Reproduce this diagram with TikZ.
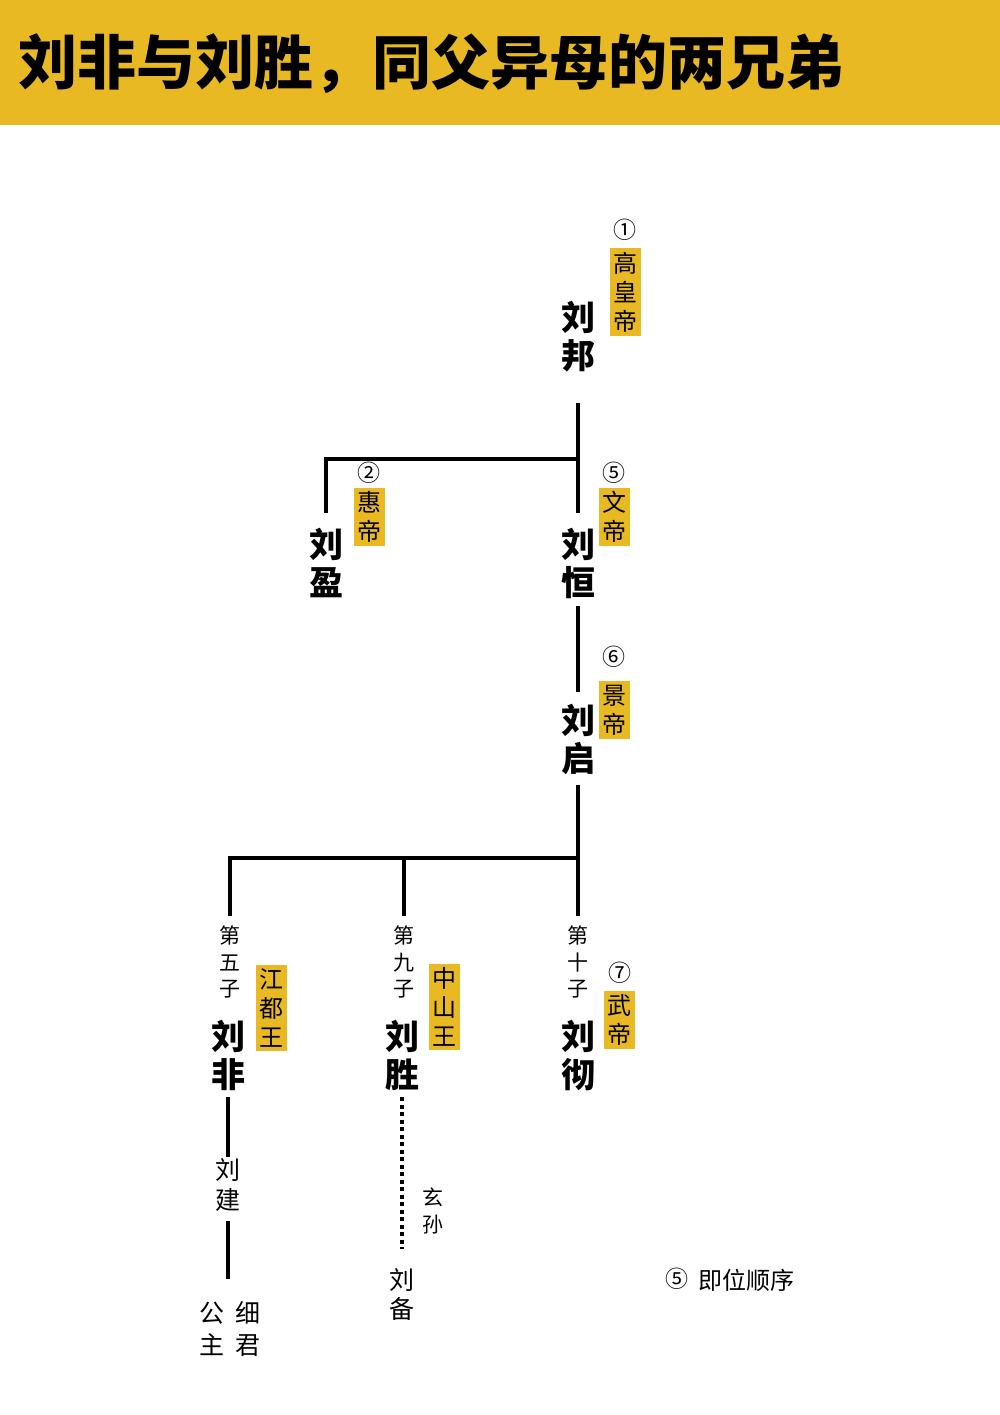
\documentclass[tikz,border=0pt]{standalone}
\usepackage{fontspec}
\setmainfont{Noto Sans CJK SC}
\definecolor{titlegold}{RGB}{233,185,35}

\begin{document}
\begin{tikzpicture}[x=1pt,y=-1pt,
  every node/.style={inner sep=0pt,align=center},
  ming/.style={font=\fontsize{34}{38}\selectfont\bfseries},
  hao/.style={fill=titlegold,inner sep=3.5pt,font=\fontsize{24}{29}\selectfont},
  xu/.style={font=\fontsize{23}{26}\selectfont},
  zi/.style={font=\fontsize{21}{26.5}\selectfont},
  link/.style={line width=4pt},
  dotlink/.style={line width=4.5pt,dash pattern=on 4pt off 3.5pt}]
  \useasboundingbox (0,0) rectangle (1000,1415);
  \fill[white] (0,0) rectangle (1000,1415);
  \fill[titlegold] (0,0) rectangle (1000,125);
  \node[anchor=west,font=\fontsize{59}{62}\selectfont\bfseries] (title) at (18,64)
    {刘非与刘胜，同父异母的两兄弟};

  % emperors
  \node[ming] (bang) at (578,337) {刘\\邦};
  \node[hao] (gaohuang) at (625,292) {高\\皇\\帝};
  \node[xu] (n1) at (625,230) {①};
  \node[ming] (ying) at (326,563) {刘\\盈};
  \node[hao] (huidi) at (369,517) {惠\\帝};
  \node[xu] (n2) at (369,473) {②};
  \node[ming] (heng) at (578,563) {刘\\恒};
  \node[hao] (wendi) at (614,517) {文\\帝};
  \node[xu] (n5) at (614,473) {⑤};
  \node[ming] (qi) at (578,740) {刘\\启};
  \node[hao] (jingdi) at (614,710) {景\\帝};
  \node[xu] (n6) at (614,657) {⑥};

  % sons of qi
  \node[zi] (rank5) at (230,962) {第\\五\\子};
  \node[ming] (fei) at (228,1055) {刘\\非};
  \node[hao] (jiangdu) at (271,1008) {江\\都\\王};
  \node[zi] (rank9) at (404,962) {第\\九\\子};
  \node[ming] (sheng) at (402,1055) {刘\\胜};
  \node[hao] (zhongshan) at (444,1007) {中\\山\\王};
  \node[zi] (rank10) at (578,962) {第\\十\\子};
  \node[ming] (che) at (578,1055) {刘\\彻};
  \node[hao] (wudi) at (619,1020) {武\\帝};
  \node[xu] (n7) at (620,973) {⑦};

  % descendants
  \node[font=\fontsize{25}{30}\selectfont] (jian) at (228,1185) {刘\\建};
  \node[font=\fontsize{25}{32}\selectfont] (xijun) at (248,1329) {细\\君};
  \node[font=\fontsize{25}{32}\selectfont] (gongzhu) at (212,1329) {公\\主};
  \node[zi] (xuansun) at (433,1211) {玄\\孙};
  \node[font=\fontsize{25}{29}\selectfont] (bei) at (402,1294) {刘\\备};

  % legend
  \node[xu] (n5key) at (677,1279) {⑤};
  \node[font=\fontsize{24}{26}\selectfont,anchor=west] (key) at (698,1280) {即位顺序};

  \coordinate (fork1) at (578,459);
  \coordinate (fork2) at (578,858);
  \draw[link,shorten <=30pt,shorten >=15pt] (bang.south) -- (heng.north);
  \draw[link,shorten >=15pt] (fork1) -| (ying.north);
  \draw[link,shorten <=8pt,shorten >=12pt] (heng.south) -- (qi.north);
  \draw[link,shorten <=9pt] (qi.south) -- (fork2);
  \draw[link,shorten >=10pt] (fork2) -- (rank10.north);
  \draw[link,shorten >=10pt] (fork2) -| (rank5.north);
  \draw[link,shorten >=10pt] (fork2 -| rank9.north) -- (rank9.north);
  \draw[link,shorten <=7pt,shorten >=1pt] (fei.south) -- (jian.north);
  \draw[link,shorten <=9pt,shorten >=22pt] (jian.south) -- (jian.south |- xijun.north);
  \draw[dotlink,shorten <=7pt,shorten >=19pt] (sheng.south) -- (bei.north);
\end{tikzpicture}
\end{document}
